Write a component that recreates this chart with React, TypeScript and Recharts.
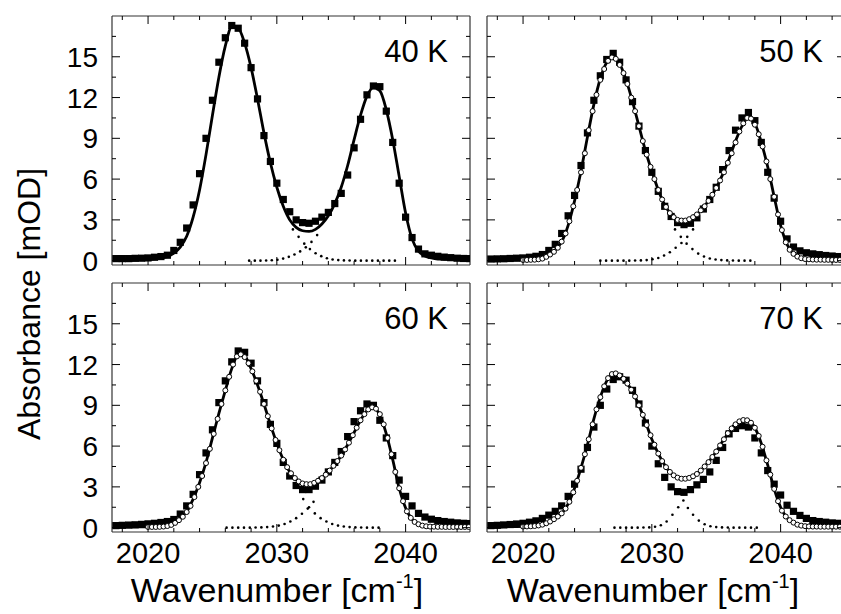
import React from 'react';
import { ComposedChart, Line, Scatter, XAxis, YAxis } from 'recharts';

// wavenumber grids (cm^-1)
const sqX = [2017.5, 2018, 2018.5, 2019, 2019.5, 2020, 2020.5, 2021, 2021.5, 2022,
  2022.5, 2023, 2023.5, 2024, 2024.5, 2025, 2025.5, 2026, 2026.5, 2027,
  2027.5, 2028, 2028.5, 2029, 2029.5, 2030, 2030.5, 2031, 2031.5, 2032,
  2032.5, 2033, 2033.5, 2034, 2034.5, 2035, 2035.5, 2036, 2036.5, 2037,
  2037.5, 2038, 2038.5, 2039, 2039.5, 2040, 2040.5, 2041, 2041.5, 2042,
  2042.5, 2043, 2043.5, 2044, 2044.5, 2045];

const circX = [2020, 2020.3, 2020.6, 2020.9, 2021.2, 2021.5, 2021.8, 2022.1, 2022.4, 2022.7,
  2023, 2023.3, 2023.6, 2023.9, 2024.2, 2024.5, 2024.8, 2025.1, 2025.4, 2025.7,
  2026, 2026.3, 2026.6, 2026.9, 2027.2, 2027.5, 2027.8, 2028.1, 2028.4, 2028.7,
  2029, 2029.3, 2029.6, 2029.9, 2030.2, 2030.5, 2030.8, 2031.1, 2031.4, 2031.7,
  2032, 2032.3, 2032.6, 2032.9, 2033.2, 2033.5, 2033.8, 2034.1, 2034.4, 2034.7,
  2035, 2035.3, 2035.6, 2035.9, 2036.2, 2036.5, 2036.8, 2037.1, 2037.4, 2037.7,
  2038, 2038.3, 2038.6, 2038.9, 2039.2, 2039.5, 2039.8, 2040.1, 2040.4, 2040.7,
  2041, 2041.3, 2041.6, 2041.9, 2042.2, 2042.5, 2042.8, 2043.1, 2043.4, 2043.7,
  2044, 2044.3, 2044.6, 2044.9];

// measured absorbance, filled squares (mOD)
const sq40 = [0.15, 0.15, 0.15, 0.17, 0.18, 0.2, 0.25, 0.3, 0.4, 0.75,
  1.35, 2.4, 4.1, 6.4, 9.0, 11.8, 14.6, 16.4, 17.3, 17.1,
  16.0, 14.2, 11.9, 9.2, 7.3, 5.7, 4.5, 3.6, 3.0, 2.8,
  2.75, 2.9, 3.2, 3.55, 4.2, 4.95, 6.3, 8.3, 10.4, 12.2,
  12.85, 12.8, 11.0, 8.7, 5.7, 3.2, 1.7, 0.85, 0.5, 0.4,
  0.32, 0.26, 0.22, 0.18, 0.16, 0.15];
const sq50 = [0.12, 0.13, 0.14, 0.16, 0.18, 0.2, 0.25, 0.32, 0.45, 0.75,
  1.2, 2.0, 3.3, 4.8, 7.0, 9.4, 11.8, 13.6, 14.8, 15.25,
  14.6, 13.3, 11.7, 9.9, 8.1, 6.5, 5.1, 4.0, 3.25, 2.8,
  2.65, 2.75, 3.15, 3.8, 4.5, 5.4, 6.7, 8.1, 9.6, 10.5,
  10.9, 10.3, 8.7, 6.5, 4.6, 2.9, 1.6, 1.0, 0.72, 0.58,
  0.5, 0.44, 0.38, 0.34, 0.3, 0.27];
const sq60 = [0.15, 0.17, 0.19, 0.21, 0.24, 0.28, 0.32, 0.38, 0.45, 0.6,
  1.0, 1.6, 2.45, 3.9, 5.5, 7.2, 9.2, 10.8, 12.2, 13.0,
  12.9, 12.1, 10.8, 9.2, 7.6, 6.2, 4.8, 3.8, 3.1, 2.8,
  2.8, 3.05, 3.5, 4.1, 4.8, 5.6, 6.7, 7.8, 8.6, 9.1,
  9.0, 7.9, 6.6, 5.3, 3.5, 2.3, 1.6, 1.05, 0.78, 0.62,
  0.52, 0.45, 0.4, 0.35, 0.32, 0.3];
const sq70 = [0.15, 0.17, 0.2, 0.23, 0.27, 0.32, 0.4, 0.5, 0.68, 0.92,
  1.2, 1.6, 2.3, 3.2, 4.3, 5.9, 7.4, 9.0, 10.2, 10.9,
  11.1, 10.85, 10.1, 9.1, 7.7, 6.0, 4.7, 3.7, 3.0, 2.65,
  2.6, 2.8, 3.15, 3.55, 4.1, 4.95, 5.9, 6.9, 7.3, 7.5,
  7.4, 6.6, 5.5, 4.2, 3.2, 2.4, 1.65, 1.2, 0.9, 0.68,
  0.52, 0.45, 0.4, 0.35, 0.32, 0.3];

// fitted curves, solid line (mOD)
const fit40 = [0.05, 0.05, 0.06, 0.07, 0.08, 0.1, 0.13, 0.2, 0.3, 0.55,
  1.0, 1.8, 3.2, 5.2, 7.8, 10.7, 13.5, 15.8, 17.2, 17.1,
  16.0, 14.2, 11.9, 9.4, 7.2, 5.4, 4.0, 3.0, 2.45, 2.2,
  2.15, 2.3, 2.7, 3.3, 4.2, 5.4, 7.0, 8.9, 10.7, 12.1,
  12.75, 12.5, 11.1, 8.9, 6.2, 3.5, 1.6, 0.7, 0.35, 0.2,
  0.12, 0.1, 0.08, 0.07, 0.06, 0.05];
const fit50 = [0.05, 0.05, 0.05, 0.05, 0.06, 0.07, 0.08, 0.1, 0.2, 0.4,
  0.8, 1.4, 2.6, 4.4, 6.6, 9.1, 11.5, 13.4, 14.6, 15.0,
  14.5, 13.3, 11.7, 9.9, 8.1, 6.6, 5.2, 4.1, 3.4, 3.0,
  2.9, 3.05, 3.4, 3.9, 4.55, 5.35, 6.35, 7.5, 8.8, 9.9,
  10.5, 10.1, 8.7, 6.9, 4.7, 2.6, 1.2, 0.5, 0.22, 0.12,
  0.1, 0.08, 0.07, 0.06, 0.06, 0.05];
const fit60 = [0.05, 0.05, 0.05, 0.05, 0.05, 0.06, 0.07, 0.1, 0.15, 0.35,
  0.7, 1.2, 2.1, 3.3, 4.8, 6.6, 8.4, 10.1, 11.7, 12.7,
  12.6, 11.7, 10.5, 9.1, 7.6, 6.2, 5.0, 4.1, 3.55, 3.25,
  3.2, 3.3, 3.65, 4.1, 4.65, 5.3, 6.1, 7.0, 7.9, 8.6,
  8.8, 8.3, 6.9, 5.0, 2.9, 1.45, 0.62, 0.27, 0.13, 0.08,
  0.07, 0.06, 0.05, 0.05, 0.05, 0.05];
const fit70 = [0.06, 0.06, 0.07, 0.07, 0.08, 0.09, 0.1, 0.14, 0.22, 0.4,
  0.7, 1.05, 1.75, 2.9, 4.4, 6.1, 8.0, 9.6, 10.8, 11.3,
  11.2, 10.7, 10.0, 9.0, 7.8, 6.5, 5.45, 4.6, 4.0, 3.7,
  3.6, 3.7, 3.95, 4.4, 4.95, 5.6, 6.35, 7.05, 7.6, 7.9,
  7.85, 7.35, 6.2, 4.6, 2.85, 1.5, 0.72, 0.37, 0.18, 0.11,
  0.09, 0.08, 0.07, 0.07, 0.07, 0.07];

// open circles (mOD)
const op50 = [0.05, 0.05, 0.06, 0.07, 0.1, 0.15, 0.28, 0.45, 0.65, 0.95,
  1.4, 2.0, 2.9, 4.0, 5.2, 6.5, 7.9, 9.6, 11.0, 12.2,
  13.3, 14.1, 14.7, 14.95, 14.85, 14.4, 13.8, 13.0, 12.0, 11.0,
  9.9, 8.8, 7.8, 6.9, 6.0, 5.2, 4.5, 3.95, 3.5, 3.2,
  3.0, 2.95, 2.95, 3.05, 3.2, 3.4, 3.7, 4.0, 4.4, 4.85,
  5.35, 5.9, 6.5, 7.2, 7.9, 8.7, 9.5, 10.1, 10.5, 10.45,
  10.0, 9.3, 8.4, 7.3, 6.0, 4.7, 3.4, 2.25, 1.35, 0.8,
  0.5, 0.3, 0.18, 0.12, 0.1, 0.08, 0.07, 0.07, 0.06, 0.06,
  0.05, 0.05, 0.05, 0.05];
const op60 = [0.05, 0.05, 0.05, 0.06, 0.08, 0.12, 0.2, 0.35, 0.55, 0.8,
  1.15, 1.6, 2.25, 3.0, 3.8, 4.75, 5.8, 6.9, 8.0, 9.1,
  10.1, 11.1, 12.0, 12.6, 12.75, 12.55, 12.1, 11.5, 10.8, 10.0,
  9.1, 8.2, 7.3, 6.45, 5.7, 5.0, 4.45, 4.0, 3.65, 3.4,
  3.25, 3.2, 3.2, 3.3, 3.45, 3.65, 3.9, 4.2, 4.55, 4.9,
  5.3, 5.75, 6.25, 6.8, 7.35, 7.9, 8.35, 8.7, 8.85, 8.75,
  8.35, 7.6, 6.6, 5.4, 4.1, 2.9, 1.95, 1.2, 0.72, 0.42,
  0.25, 0.15, 0.1, 0.08, 0.07, 0.06, 0.06, 0.05, 0.05, 0.05,
  0.05, 0.05, 0.05, 0.05];
const op70 = [0.08, 0.09, 0.1, 0.12, 0.16, 0.22, 0.32, 0.45, 0.62, 0.82,
  1.05, 1.4, 1.9, 2.6, 3.45, 4.4, 5.4, 6.5, 7.6, 8.7,
  9.6, 10.4, 11.0, 11.3, 11.35, 11.2, 10.95, 10.6, 10.15, 9.65,
  9.0, 8.3, 7.55, 6.8, 6.1, 5.45, 4.9, 4.45, 4.1, 3.85,
  3.68, 3.6, 3.6, 3.66, 3.78, 3.95, 4.2, 4.5, 4.82, 5.2,
  5.6, 6.05, 6.5, 6.95, 7.3, 7.6, 7.82, 7.92, 7.9, 7.72,
  7.35, 6.75, 5.95, 4.95, 3.9, 2.85, 1.95, 1.25, 0.82, 0.55,
  0.37, 0.22, 0.15, 0.11, 0.09, 0.08, 0.08, 0.07, 0.07, 0.07,
  0.07, 0.07, 0.07, 0.07];

// dotted component tails [wavenumber, mOD]
const comp40a = [[2027.85, 0], [2028.29, 0], [2028.73, 0], [2029.17, 0.01], [2029.61, 0.03], [2030.05, 0.07],
  [2030.49, 0.15], [2030.93, 0.28], [2031.37, 0.45], [2031.81, 0.68], [2032.25, 0.98], [2032.69, 1.38], [2033.13, 1.88]];
const comp40b = [[2031.25, 2.3], [2031.69, 1.75], [2032.13, 1.25], [2032.57, 0.85], [2033.01, 0.55], [2033.45, 0.33],
  [2033.89, 0.18], [2034.33, 0.09], [2034.77, 0.04], [2035.21, 0.02], [2035.65, 0.01], [2036.09, 0], [2036.53, 0],
  [2036.97, 0], [2037.41, 0], [2037.85, 0], [2038.29, 0], [2038.73, 0], [2039.17, 0]];
const comp50a = [[2026.0, 0], [2026.45, 0], [2026.9, 0], [2027.35, 0], [2027.8, 0], [2028.25, 0], [2028.7, 0.01],
  [2029.15, 0.02], [2029.6, 0.04], [2030.05, 0.1], [2030.5, 0.2], [2030.95, 0.38], [2031.4, 0.62], [2031.85, 0.95],
  [2032.3, 1.3], [2032.75, 1.75], [2033.2, 2.3]];
const comp50b = [[2031.8, 2.3], [2032.25, 1.75], [2032.7, 1.25], [2033.15, 0.85], [2033.6, 0.52], [2034.05, 0.3],
  [2034.5, 0.16], [2034.95, 0.08], [2035.4, 0.04], [2035.85, 0.02], [2036.3, 0.01], [2036.75, 0], [2037.2, 0], [2037.65, 0]];
const comp60a = [[2026.1, 0], [2026.55, 0], [2027.0, 0], [2027.45, 0], [2027.9, 0], [2028.35, 0.01], [2028.8, 0.02],
  [2029.25, 0.04], [2029.7, 0.08], [2030.15, 0.15], [2030.6, 0.27], [2031.05, 0.45], [2031.5, 0.7], [2031.95, 1.02],
  [2032.4, 1.4], [2032.85, 1.9]];
const comp60b = [[2032.05, 2.1], [2032.5, 1.5], [2032.95, 1.05], [2033.4, 0.7], [2033.85, 0.45], [2034.3, 0.27],
  [2034.75, 0.15], [2035.2, 0.08], [2035.65, 0.04], [2036.1, 0.02], [2036.55, 0.01], [2037.0, 0], [2037.45, 0], [2037.9, 0]];
const comp70a = [[2027.1, 0], [2027.55, 0], [2028.0, 0], [2028.45, 0], [2028.9, 0], [2029.35, 0.01], [2029.8, 0.02],
  [2030.25, 0.07], [2030.7, 0.18], [2031.15, 0.45], [2031.6, 0.95], [2032.05, 1.5], [2032.45, 2.0]];
const comp70b = [[2032.8, 1.45], [2033.2, 0.95], [2033.65, 0.52], [2034.1, 0.25], [2034.55, 0.1], [2035.0, 0.04],
  [2035.45, 0.02], [2035.9, 0.01], [2036.35, 0], [2036.8, 0], [2037.25, 0], [2037.7, 0], [2038.15, 0]];

const xTicks = [2018, 2020, 2022, 2024, 2026, 2028, 2030, 2032, 2034, 2036, 2038, 2040, 2042, 2044];
const xMajor = [2020, 2030, 2040];
const yTicks = [0, 1.5, 3, 4.5, 6, 7.5, 9, 10.5, 12, 13.5, 15, 16.5];
const yMajor = [0, 3, 6, 9, 12, 15];

const FONT = '"Liberation Sans", Arial, Helvetica, sans-serif';
const INK = '#000';
const FRAME = '#333';
const PW = 358;
const PH = 249;
const M = 50;
const X_DOMAIN = [2017.2, 2045];
const Y_DOMAIN = [-0.32, 18];

const toRows = (xs: number[], ys: number[]) => xs.map((x, i) => ({ x, y: ys[i] }));
const pairRows = (pts: number[][]) => pts.map(([x, y]) => ({ x, y }));

const Square = (props: any) => {
  const { cx, cy } = props;
  if (cx == null || cy == null) return null;
  return <rect x={cx - 3.6} y={cy - 3.6} width={7.2} height={7.2} fill={INK} />;
};

const OpenCircle = (props: any) => {
  const { cx, cy } = props;
  if (cx == null || cy == null) return null;
  return <circle cx={cx} cy={cy} r={2.5} fill="#fff" stroke={INK} strokeWidth={1} />;
};

const SmallDot = (props: any) => {
  const { cx, cy } = props;
  if (cx == null || cy == null) return null;
  return <circle cx={cx} cy={cy} r={1.3} fill={INK} />;
};

// ticks point into the frame; labels only on the outer panels
const XTick = (props: any) => {
  const { x, y, payload, side, showLabel } = props;
  const major = xMajor.includes(payload.value);
  const len = major ? 8 : 4;
  const dir = side === 'top' ? 1 : -1;
  return (
    <g>
      <line x1={x} x2={x} y1={y} y2={y + dir * len} stroke={INK} strokeWidth={1} />
      {showLabel && major && (
        <text x={x} y={y + 31} textAnchor="middle" fontSize={29} fontFamily={FONT} fill={INK}>
          {payload.value}
        </text>
      )}
    </g>
  );
};

const YTick = (props: any) => {
  const { x, y, payload, side, showLabel } = props;
  const major = yMajor.includes(payload.value);
  const len = major ? 8 : 4;
  const dir = side === 'left' ? 1 : -1;
  return (
    <g>
      <line x1={x} x2={x + dir * len} y1={y} y2={y} stroke={INK} strokeWidth={1} />
      {showLabel && major && (
        <text x={x - 14} y={y + 10} textAnchor="end" fontSize={28} fontFamily={FONT} fill={INK}>
          {payload.value}
        </text>
      )}
    </g>
  );
};

const panels = [
  { label: '40 K', sq: sq40, fit: fit40, open: null, comps: [comp40a, comp40b], left: 112, top: 16, yLabels: true, xLabels: false },
  { label: '50 K', sq: sq50, fit: fit50, open: op50, comps: [comp50a, comp50b], left: 487, top: 16, yLabels: false, xLabels: false },
  { label: '60 K', sq: sq60, fit: fit60, open: op60, comps: [comp60a, comp60b], left: 112, top: 283, yLabels: true, xLabels: true },
  { label: '70 K', sq: sq70, fit: fit70, open: op70, comps: [comp70a, comp70b], left: 487, top: 283, yLabels: false, xLabels: true },
];

const Panel = ({ p }: { p: any }) => {
  const axisLine = { stroke: FRAME, strokeWidth: 1.2 };
  return (
    <div style={{ position: 'absolute', left: p.left - M, top: p.top - M }}>
      <ComposedChart width={PW + 2 * M} height={PH + 2 * M} margin={{ top: 0, right: 0, bottom: 0, left: 0 }}>
        <XAxis xAxisId="b" type="number" dataKey="x" domain={X_DOMAIN} allowDataOverflow ticks={xTicks} interval={0}
          height={M} tickSize={0} tickMargin={0} tickLine={false} axisLine={axisLine}
          tick={<XTick side="bottom" showLabel={p.xLabels} />} />
        <XAxis xAxisId="t" orientation="top" type="number" dataKey="x" domain={X_DOMAIN} allowDataOverflow ticks={xTicks} interval={0}
          height={M} tickSize={0} tickMargin={0} tickLine={false} axisLine={axisLine}
          tick={<XTick side="top" showLabel={false} />} />
        <YAxis yAxisId="l" type="number" dataKey="y" domain={Y_DOMAIN} allowDataOverflow ticks={yTicks} interval={0}
          width={M} tickSize={0} tickMargin={0} tickLine={false} axisLine={axisLine}
          tick={<YTick side="left" showLabel={p.yLabels} />} />
        <YAxis yAxisId="r" orientation="right" type="number" dataKey="y" domain={Y_DOMAIN} allowDataOverflow ticks={yTicks} interval={0}
          width={M} tickSize={0} tickMargin={0} tickLine={false} axisLine={axisLine}
          tick={<YTick side="right" showLabel={false} />} />
        <Scatter xAxisId="b" yAxisId="l" data={toRows(sqX, p.sq)} dataKey="y" shape={Square} isAnimationActive={false} />
        <Line xAxisId="b" yAxisId="l" data={toRows(sqX, p.fit)} dataKey="y" type="monotone" stroke={INK} strokeWidth={2.8}
          dot={false} activeDot={false} isAnimationActive={false} />
        {p.open && (
          <Scatter xAxisId="b" yAxisId="l" data={toRows(circX, p.open)} dataKey="y" shape={OpenCircle} isAnimationActive={false} />
        )}
        {p.comps.map((c: number[][], i: number) => (
          <Scatter key={i} xAxisId="b" yAxisId="l" data={pairRows(c)} dataKey="y" shape={SmallDot} isAnimationActive={false} />
        ))}
      </ComposedChart>
    </div>
  );
};

export default function App() {
  return (
    <div style={{ position: 'absolute', left: 0, top: 0, width: 841, height: 614, overflow: 'hidden', background: '#fff' }}>
      {panels.map((p) => (
        <Panel key={p.label} p={p} />
      ))}
      <svg width={841} height={614} style={{ position: 'absolute', left: 0, top: 0, pointerEvents: 'none' }}>
        {panels.map((p) => (
          <text key={p.label} x={p.left + PW - 22} y={p.top + 46} textAnchor="end" fontSize={31} fontFamily={FONT} fill={INK}>
            {p.label}
          </text>
        ))}
        <text x={40} y={304} transform="rotate(-90 40 304)" textAnchor="middle" fontSize={32} fontFamily={FONT} fill={INK}>
          Absorbance [mOD]
        </text>
        {[277, 653].map((cx) => (
          <text key={cx} x={cx} y={602} textAnchor="middle" fontSize={34} fontFamily={FONT} fill={INK}>
            Wavenumber [cm<tspan dy={-14} fontSize={20}>-1</tspan><tspan dy={14}>]</tspan>
          </text>
        ))}
      </svg>
    </div>
  );
}
